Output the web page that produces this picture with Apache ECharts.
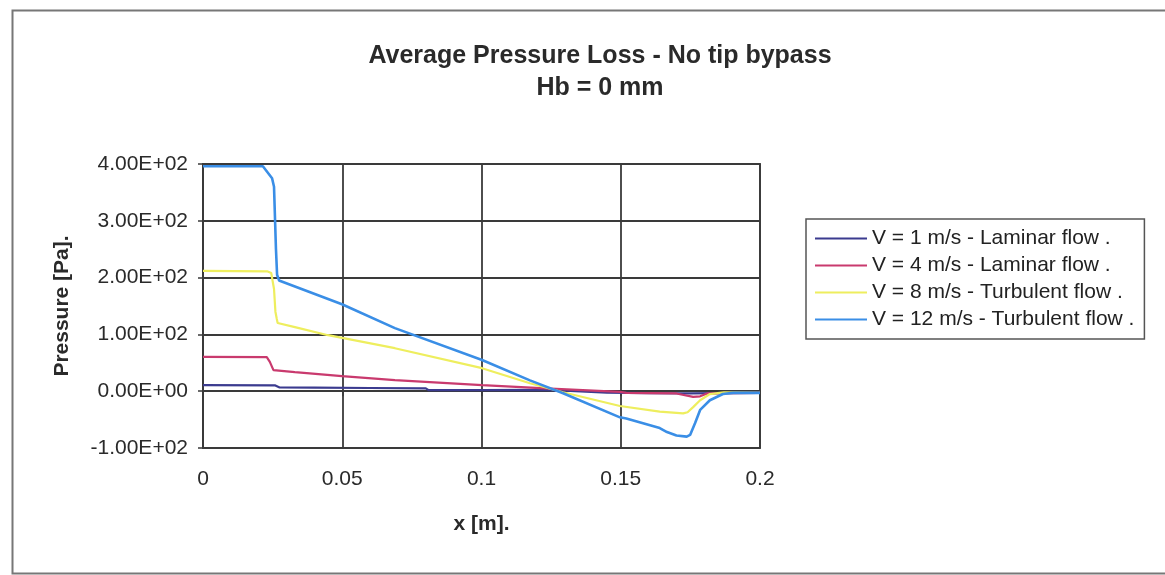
<!DOCTYPE html>
<html>
<head>
<meta charset="utf-8">
<script src="https://cdn.jsdelivr.net/npm/echarts@6/dist/echarts.min.js"></script>
<style>
  html, body { margin: 0; padding: 0; background: #fff; }
  #chart { width: 1165px; height: 575px; }
</style>
</head>
<body>
<div id="chart"></div>
<script>
  // series values, [x (m), pressure (Pa)]
  const v1 = [[0, 10.6], [0.0258, 10.4], [0.0275, 6.5], [0.04, 6.3], [0.06, 5.6], [0.08, 5], [0.081, 1.8],
    [0.1, 1.8], [0.12, 2.5], [0.13, 1], [0.145, -2.5], [0.16, -3.5], [0.175, -4], [0.185, -3.5], [0.2, -3]]
  const v4 = [[0, 60.4], [0.0229, 60], [0.024, 51.6], [0.0253, 37], [0.033, 33.5], [0.0499, 26.4], [0.0689, 19.4],
    [0.1002, 10.6], [0.123, 5], [0.1497, -1.2], [0.152, -3], [0.17, -4], [0.176, -10], [0.1785, -9],
    [0.181, -4], [0.2, -3]]
  const v8 = [[0, 212], [0.023, 211], [0.0245, 208], [0.0255, 180], [0.026, 140], [0.0265, 127], [0.0268, 120],
    [0.033, 112.7], [0.0449, 98.6], [0.0689, 75.7], [0.1002, 40.5], [0.1174, 14], [0.1293, -1.8],
    [0.1497, -26], [0.164, -36], [0.1724, -39], [0.174, -37], [0.176, -28], [0.1785, -16], [0.182, -5],
    [0.187, -2], [0.2, -3]]
  const v12 = [[0, 396], [0.0215, 396], [0.0248, 375], [0.0255, 360], [0.0262, 250], [0.0266, 205], [0.0273, 195],
    [0.0499, 153], [0.0689, 111], [0.1002, 55], [0.1174, 19], [0.1293, -3.5], [0.1497, -46], [0.152, -48],
    [0.164, -65], [0.1666, -72], [0.17, -78], [0.1737, -80], [0.1749, -77], [0.1767, -56], [0.1785, -33],
    [0.182, -16], [0.1867, -5], [0.1903, -3], [0.2, -3]]

  const seriesNames = ['V = 1 m/s - Laminar flow .', 'V = 4 m/s - Laminar flow .',
    'V = 8 m/s - Turbulent flow .', 'V = 12 m/s - Turbulent flow .']
  const seriesColors = ['#3b3b8f', '#c93a6e', '#eeee5e', '#3a8ee6']

  const yTicks = [-100, 0, 100, 200, 300, 400]
  const yTickLabels = ['-1.00E+02', '0.00E+00', '1.00E+02', '2.00E+02', '3.00E+02', '4.00E+02']

  const font = 'Liberation Sans, Arial, sans-serif'
  const chart = echarts.init(document.getElementById('chart'))

  chart.setOption({
    backgroundColor: '#fff',
    animation: false,
    title: {
      text: 'Average Pressure Loss - No tip bypass\nHb = 0 mm',
      left: 595,
      top: 35,
      textAlign: 'center',
      textStyle: {
        fontFamily: font,
        fontSize: 25,
        fontWeight: 'bold',
        lineHeight: 32,
        color: '#2a2a2a'
      }
    },
    legend: {
      orient: 'vertical',
      left: 806,
      top: 219,
      padding: [9, 10, 9, 9],
      borderColor: '#555',
      borderWidth: 1.5,
      itemWidth: 52,
      itemHeight: 2,
      itemGap: 6,
      icon: 'rect',
      data: seriesNames,
      textStyle: {
        fontFamily: font,
        fontSize: 21,
        color: '#222'
      }
    },
    grid: {
      left: 203,
      top: 164,
      width: 557,
      height: 284,
      show: true,
      borderColor: '#3a3a3a',
      borderWidth: 1.8
    },
    xAxis: {
      type: 'value',
      min: 0,
      max: 0.2,
      interval: 0.05,
      name: 'x [m].',
      nameLocation: 'middle',
      nameGap: 66,
      nameTextStyle: {fontFamily: font, fontSize: 21, fontWeight: 'bold', color: '#2a2a2a'},
      axisLine: {lineStyle: {color: '#3a3a3a', width: 1.8}},
      axisTick: {show: true, length: 5, lineStyle: {color: '#3a3a3a', width: 1.5}},
      axisLabel: {margin: 21, fontFamily: font, fontSize: 21, color: '#2a2a2a'},
      splitLine: {show: true, lineStyle: {color: '#3a3a3a', width: 1.8}}
    },
    yAxis: {
      type: 'value',
      min: -100,
      max: 400,
      interval: 100,
      name: 'Pressure [Pa].',
      nameLocation: 'middle',
      nameRotate: 90,
      nameGap: 130,
      nameTextStyle: {fontFamily: font, fontSize: 21, fontWeight: 'bold', color: '#2a2a2a'},
      axisLine: {show: true, lineStyle: {color: '#3a3a3a', width: 1.8}},
      axisTick: {show: true, length: 5, lineStyle: {color: '#3a3a3a', width: 1.5}},
      axisLabel: {
        margin: 15,
        fontFamily: font,
        fontSize: 21,
        color: '#2a2a2a',
        formatter: v => yTickLabels[yTicks.indexOf(Math.round(v))]
      },
      splitLine: {show: true, lineStyle: {color: '#3a3a3a', width: 1.8}}
    },
    graphic: [{
      type: 'rect',
      left: 10,
      top: 8,
      shape: {width: 1200, height: 563},
      style: {fill: 'none', stroke: '#777', lineWidth: 2},
      silent: true
    }],
    series: [v1, v4, v8, v12].map((d, i) => ({
      name: seriesNames[i],
      type: 'line',
      data: d,
      showSymbol: false,
      color: seriesColors[i],
      lineStyle: {width: i === 3 ? 2.6 : 2.2, color: seriesColors[i]}
    }))
  })
</script>
</body>
</html>
